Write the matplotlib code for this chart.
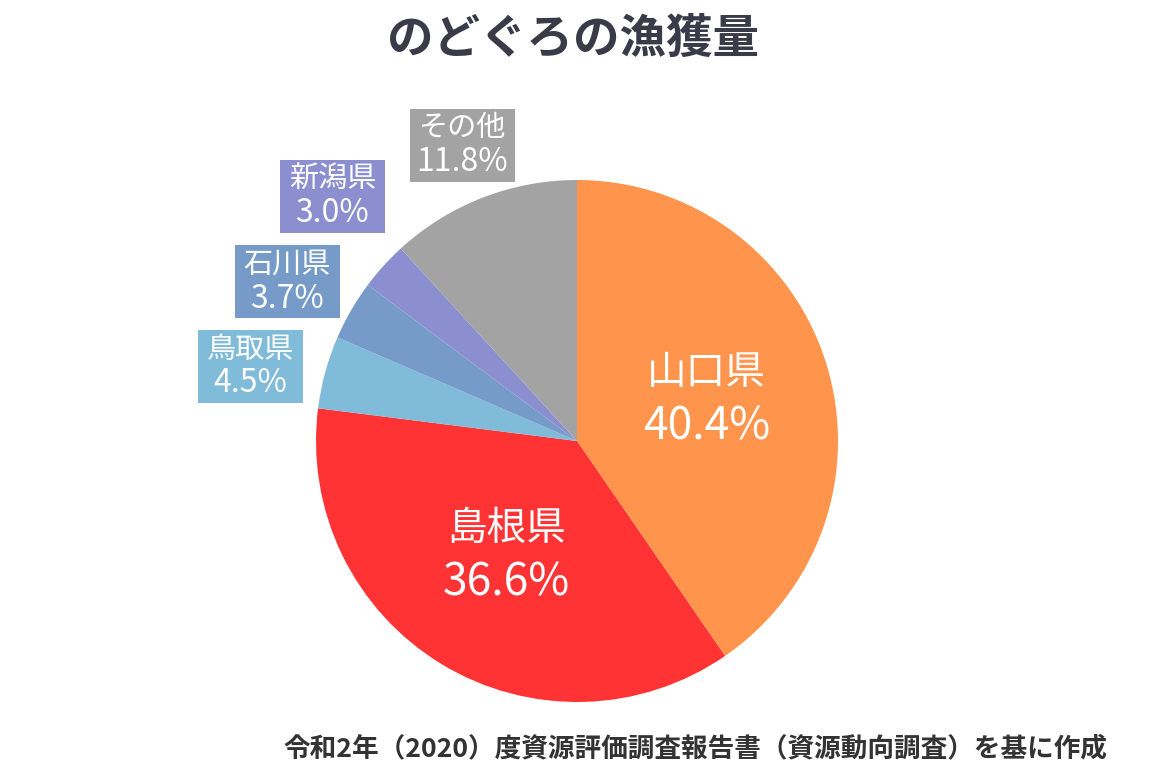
import numpy as np
import matplotlib.pyplot as plt
from matplotlib.patches import Rectangle

plt.rcParams['font.family'] = ['Noto Sans CJK JP', 'DejaVu Sans']

prefs = ['山口県', '島根県', '鳥取県', '石川県', '新潟県', 'その他']
shares = [40.4, 36.6, 4.5, 3.7, 3.0, 11.8]
colors = ['#FF944D', '#FF3333', '#80BBD9', '#769BC9', '#8B8FCF', '#A3A3A3']

W, H = 1152, 768
fig = plt.figure(figsize=(W / 100, H / 100), dpi=100)
ax = fig.add_axes([0, 0, 1, 1])

cx, cy, r = 577, H - 441, 261
wedges, _ = ax.pie(shares, colors=colors, startangle=90, counterclock=False,
                   center=(cx, cy), radius=r, frame=True,
                   wedgeprops=dict(linewidth=0))
ax.set_xlim(0, W)
ax.set_ylim(0, H)
ax.set_aspect('equal')
ax.axis('off')

# big labels inside the two largest slices
for w, name, val in zip(wedges[:2], prefs[:2], shares[:2]):
    mid = np.deg2rad((w.theta1 + w.theta2) / 2)
    x = cx + 0.52 * r * np.cos(mid)
    y = cy + 0.52 * r * np.sin(mid)
    ax.text(x, y + 28, name, ha='center', va='center', color='white', fontsize=28.5)
    ax.text(x, y - 26, f'{val}%', ha='center', va='center', color='white', fontsize=32)

# boxed labels for the small slices (box centre in pixels from top-left)
box_pos = {'鳥取県': (250.5, 366.5), '石川県': (287, 281.5),
           '新潟県': (332.5, 196.5), 'その他': (462, 145)}
bw, bh = 105, 73
for name, val, col in zip(prefs[2:], shares[2:], colors[2:]):
    bx, by = box_pos[name]
    by = H - by
    ax.add_patch(Rectangle((bx - bw / 2, by - bh / 2), bw, bh, fc=col, ec='none'))
    ax.text(bx, by + 17, name, ha='center', va='center', color='white', fontsize=21)
    ax.text(bx, by - 17, f'{val}%', ha='center', va='center', color='white', fontsize=23)

fig.text(573.5 / W, 1 - 39 / H, 'のどぐろの漁獲量', ha='center', va='center',
         fontsize=33.5, fontweight='bold', color='#3A3A48')
fig.text(1107 / W, 1 - 749 / H, '令和2年（2020）度資源評価調査報告書（資源動向調査）を基に作成',
         ha='right', va='center', fontsize=19.2, fontweight='bold', color='#333333')

fig.savefig('out.png', dpi=100, facecolor='white')
